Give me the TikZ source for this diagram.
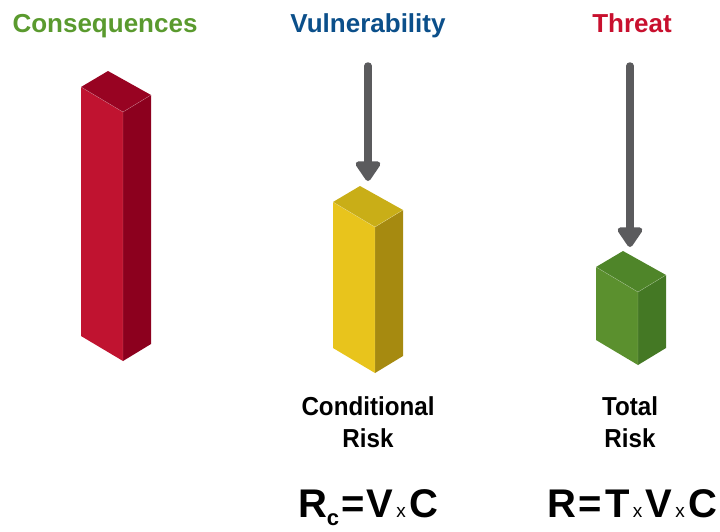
\documentclass[tikz,border=0pt]{standalone}
\usepackage{fontspec}
\setmainfont{Liberation Sans}
\newfontfamily\narrowfont[FakeStretch=0.93]{Liberation Sans}
\usetikzlibrary{arrows.meta}

\definecolor{redfront}{HTML}{C01330}
\definecolor{redside}{HTML}{8C001E}
\definecolor{redtop}{HTML}{980322}
\definecolor{yelfront}{HTML}{E8C41C}
\definecolor{yelside}{HTML}{A68A10}
\definecolor{yeltop}{HTML}{C9AE17}
\definecolor{grnfront}{HTML}{5B902E}
\definecolor{grnside}{HTML}{447824}
\definecolor{grntop}{HTML}{4F8529}
\definecolor{titlegreen}{HTML}{5A9A2E}
\definecolor{titleblue}{HTML}{0B4F8A}
\definecolor{titlered}{HTML}{C8102E}
\definecolor{arrowgray}{HTML}{5B5B5D}

% iso bar: left top corner x, y, height, colour prefix
\newcommand{\isobar}[4]{%
  \fill[#4front] (#1,#2) -- ++(42,25) -- ++(0,#3) -- ++(-42,-25) -- cycle;
  \fill[#4side] (#1+42,#2+25) -- ++(28,-17) -- ++(0,#3) -- ++(-28,17) -- cycle;
  \fill[#4top] (#1,#2) -- ++(27,-16) -- ++(43,24) -- ++(-28,17) -- cycle;
  \draw[white,opacity=.35,line width=.4pt] (#1,#2) -- ++(42,25) -- ++(28,-17)
    (#1+42,#2+25) -- ++(0,#3);
}

\begin{document}
\begin{tikzpicture}[x=1pt,y=-1pt,
  title/.style={font=\fontsize{26}{26}\selectfont\bfseries,anchor=base},
  caption/.style={font=\narrowfont\fontsize{26}{32}\selectfont\bfseries,align=center,anchor=base},
  formula/.style={font=\fontsize{40}{40}\selectfont\bfseries,anchor=base,inner sep=0pt},
  pointer/.style={arrowgray,line width=7.5pt,line cap=round,-{Triangle[width=28pt,length=22pt,round]}}]

	\useasboundingbox (0,0) rectangle (720,531);

	% bars
	\isobar{81}{87}{249}{red}
	\isobar{333}{202}{146}{yel}
	\isobar{596}{267}{73}{grn}

	% titles
	\node[title,text=titlegreen] (cons) at (105,32) {Consequences};
	\node[title,text=titleblue] (vuln) at (368,32) {Vulnerability};
	\node[title,text=titlered] (threat) at (632,32) {Threat};

	% arrows
	\coordinate (vstart) at (368,66);
	\coordinate (vend) at (368,181);
	\coordinate (tstart) at (630,66);
	\coordinate (tend) at (630,247);
	\draw[pointer] (vstart) -- (vend);
	\draw[pointer] (tstart) -- (tend);

	% captions
	\node[caption] (cond) at (368,415) {Conditional};
	\node[caption] (condrisk) at (368,447) {Risk};
	\node[caption] (total) at (630,415) {Total};
	\node[caption] (totalrisk) at (630,447) {Risk};

	% formulas
	\newcommand{\tms}{{\mdseries\fontsize{19}{19}\selectfont\,x\,}}
	\node[formula] (rcform) at (368,517)
		{R\raisebox{-8pt}{\fontsize{22}{22}\selectfont c}\hspace{2pt}=\hspace{2pt}V\tms C};
	\node[formula] (rform) at (632,517)
		{R\hspace{3pt}=\hspace{3pt}T\tms V\tms C};

\end{tikzpicture}
\end{document}
